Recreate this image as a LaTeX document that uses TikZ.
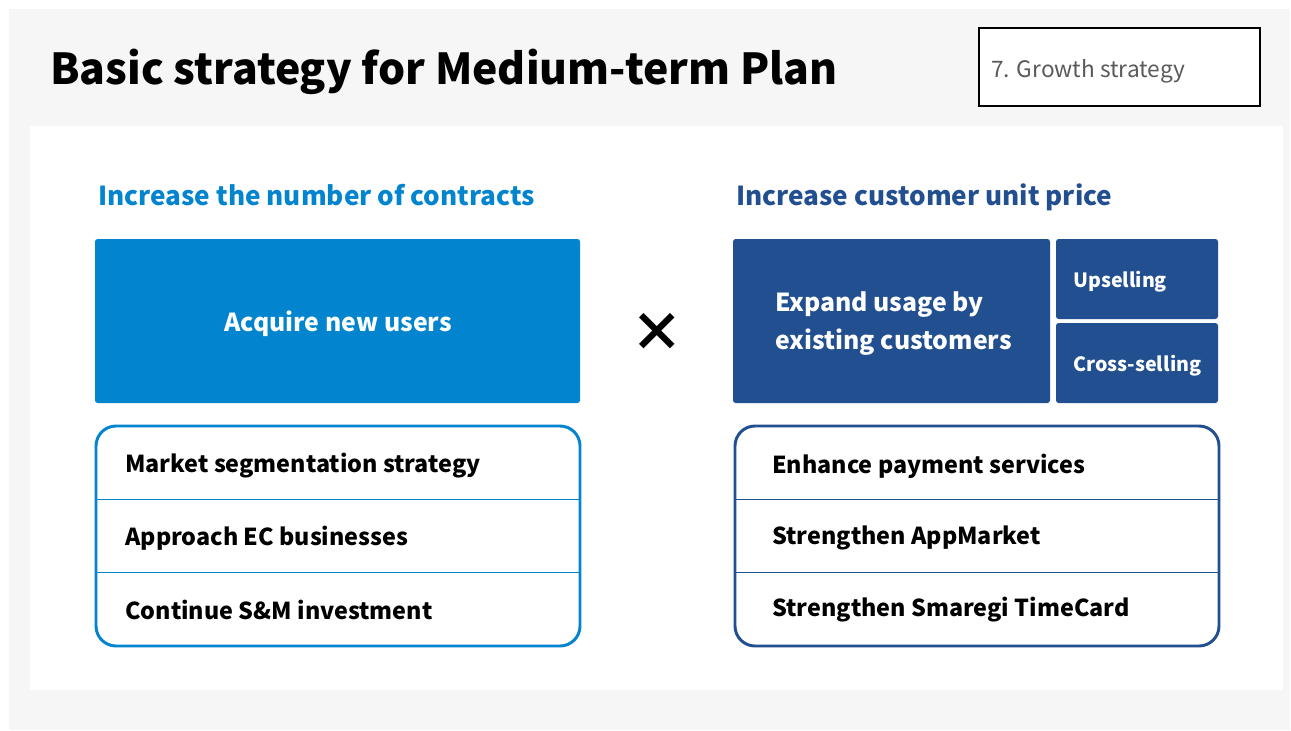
\documentclass[tikz,border=0pt]{standalone}
\usepackage{fontspec}
\setmainfont{Noto Sans CJK JP}
\usepackage{tikz}

\definecolor{lightblue}{RGB}{2,132,206}
\definecolor{darkblue}{RGB}{34,79,143}
\definecolor{pagegray}{RGB}{246,246,246}
\definecolor{taggray}{RGB}{90,90,90}

\tikzset{
  headtext/.style={anchor=west,font=\fontsize{19.6}{23}\selectfont\bfseries},
  itemtext/.style={anchor=west,font=\fontsize{17.5}{21}\selectfont\bfseries,text=black},
  boxtext/.style={font=\fontsize{18.6}{28.5}\selectfont\bfseries,text=white},
  smalltext/.style={anchor=west,font=\fontsize{14.7}{18}\selectfont\bfseries,text=white}
}

\begin{document}
\begin{tikzpicture}[x=0.75pt,y=-0.75pt]
\useasboundingbox (0,0) rectangle (1291,731);
\fill[white] (0,0) rectangle (1291,731);
\fill[pagegray] (9,9) rectangle (1290,730);
\fill[white] (30,126) rectangle (1283,690);

% title and tag
\node[anchor=west,inner sep=0pt,font=\fontsize{32}{36}\selectfont\bfseries] (title) at (50,72) {Basic strategy for Medium-term Plan};
\draw[line width=1.5pt,fill=white] (979,28) rectangle (1260,106);
\node[anchor=west,inner sep=0pt,text=taggray,font=\fontsize{17}{20}\selectfont] (tag) at (991,71) {7. Growth strategy};

% left column
\node[headtext,inner sep=0pt,text=lightblue] (lefthead) at (98,195) {Increase the number of contracts};
\fill[lightblue,rounded corners=2pt] (95,239) rectangle (580,403);
\node[boxtext] (acquire) at (338,324) {Acquire new users};

\draw[lightblue,line width=2.2pt,rounded corners=15pt] (96,426) rectangle (580,646);
\draw[lightblue,line width=0.6pt] (96,499) -- (580,499);
\draw[lightblue,line width=0.6pt] (96,572) -- (580,572);
\node[itemtext,inner sep=0pt] (segment) at (125,466) {Market segmentation strategy};
\node[itemtext,inner sep=0pt] (ecbiz) at (125,538) {Approach EC businesses};
\node[itemtext,inner sep=0pt] (sminvest) at (125,610) {Continue S\&M investment};

% times sign
\node[font=\fontsize{40}{40}\selectfont\bfseries] (times) at (657,332) {×};

% right column
\node[headtext,inner sep=0pt,text=darkblue] (righthead) at (736,197) {Increase customer unit price};
\fill[darkblue,rounded corners=2pt] (733,239) rectangle (1050,403);
\node[boxtext,anchor=west,align=left,inner sep=0pt] (expand) at (775,324) {Expand usage by\\existing customers};
\fill[darkblue,rounded corners=2pt] (1056,239) rectangle (1218,319);
\node[smalltext,inner sep=0pt] (upsell) at (1073,282) {Upselling};
\fill[darkblue,rounded corners=2pt] (1056,323) rectangle (1218,403);
\node[smalltext,inner sep=0pt] (crosssell) at (1073,366) {Cross-selling};

\draw[darkblue,line width=2.2pt,rounded corners=15pt] (735,426) rectangle (1219,646);
\draw[darkblue,line width=0.6pt] (735,499) -- (1219,499);
\draw[darkblue,line width=0.6pt] (735,572) -- (1219,572);
\node[itemtext,inner sep=0pt] (payment) at (772,466) {Enhance payment services};
\node[itemtext,inner sep=0pt] (appmarket) at (772,538) {Strengthen AppMarket};
\node[itemtext,inner sep=0pt] (timecard) at (772,610) {Strengthen Smaregi TimeCard};
\end{tikzpicture}
\end{document}
